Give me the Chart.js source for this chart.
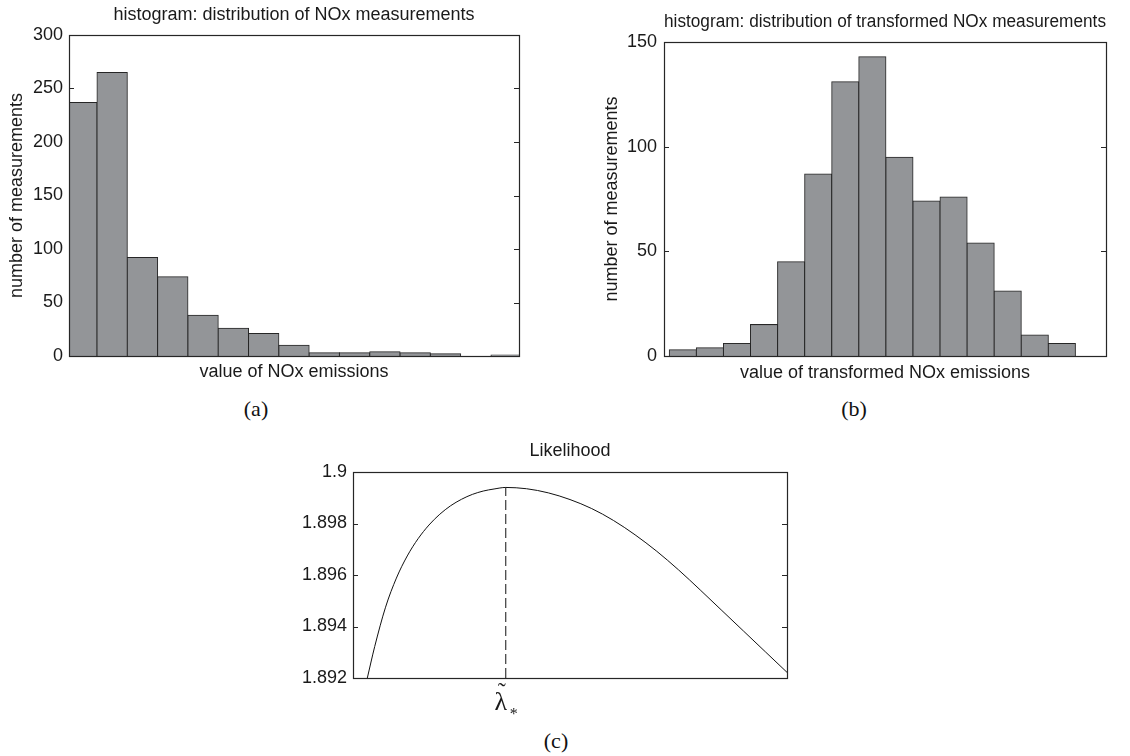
<!DOCTYPE html>
<html><head><meta charset="utf-8">
<script src="https://cdn.jsdelivr.net/npm/chart.js@4.4.1/dist/chart.umd.min.js"></script>
<style>
html,body{margin:0;padding:0;background:#fff;width:1130px;height:756px;overflow:hidden;}
.box{position:absolute;}
.cap{position:absolute;font-family:'Liberation Serif','Times New Roman',serif;font-size:22px;color:#111;transform:translate(-50%,-50%);white-space:nowrap;}
</style></head><body>
<div class="box" style="left:0;top:0;width:530px;height:390px"><canvas id="ca"></canvas></div>
<div class="box" style="left:590px;top:0;width:540px;height:390px"><canvas id="cb"></canvas></div>
<div class="box" style="left:280px;top:425px;width:540px;height:300px"><canvas id="cc"></canvas></div>
<div class="cap" style="left:256px;top:409px">(a)</div>
<div class="cap" style="left:854px;top:409px">(b)</div>
<div class="cap" style="left:556px;top:741px">(c)</div>
<script>
// ---------- data ----------
const binsA = [1,2,3,4,5,6,7,8,9,10,11,12,13,14,15];
const countsA = [237,265,92,74,38,26,21,10,3,3,4,3,2,0,1];
const yTicksA = [0,50,100,150,200,250,300];
const yTickLabelsA = ['0','50','100','150','200','250','300'];

const binsB = [1,2,3,4,5,6,7,8,9,10,11,12,13,14,15,16];
const countsB = [3,4,6,15,45,87,131,143,95,74,76,54,31,10,6,0];
const yTicksB = [0,50,100,150];
const yTickLabelsB = ['0','50','100','150'];

const lambdaVals = [0.033, 0.05, 0.075, 0.10, 0.125, 0.15, 0.175, 0.20, 0.225, 0.25, 0.275, 0.30, 0.325, 0.352,
                    0.40, 0.45, 0.50, 0.55, 0.60, 0.65, 0.70, 0.75, 0.80, 0.85, 0.90, 0.95, 1.00];
const likelihoodVals = [1.89200, 1.89322, 1.89475, 1.89588, 1.89674, 1.89741, 1.89794, 1.89836, 1.89869, 1.89894, 1.89913, 1.89926, 1.89934, 1.89940,
                        1.89935, 1.89919, 1.89893, 1.89858, 1.89812, 1.89756, 1.89692, 1.89620, 1.89542, 1.89462, 1.89382, 1.89302, 1.89222];
const lambdaStar = 0.352;
const likelihoodMax = 1.8994;
const yTicksC = [1.892,1.894,1.896,1.898,1.9];
const yTickLabelsC = ['1.892','1.894','1.896','1.898','1.9'];

const titleA = 'histogram: distribution of NOx measurements';
const xTitleA = 'value of NOx emissions';
const titleB = 'histogram: distribution of transformed NOx measurements';
const xTitleB = 'value of transformed NOx emissions';
const yTitleAB = 'number of measurements';
const titleC = 'Likelihood';
const lambdaLabel = 'λ';

// ---------- defaults ----------
Chart.defaults.font.family = "'Liberation Sans', Arial, Helvetica, sans-serif";
Chart.defaults.font.size = 18;
Chart.defaults.color = '#1a1a1a';
Chart.defaults.animation = false;
Chart.defaults.plugins.legend.display = false;
Chart.defaults.plugins.tooltip.enabled = false;

const INK = '#262626';
const fixedH = h => s => { s.height = h; };
const fixedW = w => s => { s.width = w; };
const setTicks = vals => s => { s.ticks = vals.map(v => ({value: v})); };

const framePlugin = {
  id: 'frame',
  beforeDatasetsDraw(chart) {
    const {ctx, chartArea: a} = chart;
    const ys = chart.scales.y;
    ctx.save();
    ctx.strokeStyle = INK; ctx.lineWidth = 1;
    ctx.beginPath();
    ys.ticks.forEach(t => {
      const y = Math.round(ys.getPixelForValue(t.value)) + 0.5;
      ctx.moveTo(a.left, y); ctx.lineTo(a.left + 5, y);
      ctx.moveTo(a.right - 5, y); ctx.lineTo(a.right, y);
    });
    ctx.stroke();
    ctx.restore();
  },
  afterDatasetsDraw(chart) {
    const {ctx, chartArea: a} = chart;
    ctx.save();
    ctx.strokeStyle = INK; ctx.lineWidth = 1.2;
    const l = Math.round(a.left) + 0.5, t = Math.round(a.top) + 0.5;
    ctx.strokeRect(l, t, Math.round(a.right) - Math.round(a.left), Math.round(a.bottom) - Math.round(a.top));
    ctx.restore();
  }
};

function hiddenTopAxis(text, h, pad) {
  return {
    type: 'linear', position: 'top', display: true, min: 0, max: 1,
    grid: {display: false, drawTicks: false}, border: {display: false},
    ticks: {display: false},
    title: {display: true, text: text, padding: {top: pad, bottom: 0}, font: {size: 18}},
    afterFit: fixedH(h)
  };
}

function makeHist(id, bins, counts, yTicks, yLabels, o) {
  return new Chart(document.getElementById(id), {
    type: 'bar',
    data: {
      datasets: [{
        data: bins.map((b, i) => ({x: b, y: counts[i]})),
        backgroundColor: '#939598',
        borderColor: INK,
        borderWidth: 1,
        borderSkipped: 'start',
        inflateAmount: 0.5,
        barPercentage: 1,
        categoryPercentage: 1,
        clip: 0
      }]
    },
    options: {
      responsive: true, maintainAspectRatio: false,
      layout: {padding: {left: 0, right: o.rightPad, top: 0, bottom: 0}},
      scales: {
        x: {
          type: 'linear', min: o.xMin, max: o.xMax, offset: false,
          grid: {display: false, drawTicks: false, offset: false}, border: {display: false},
          ticks: {display: false, stepSize: 1, includeBounds: false},
          title: {display: true, text: o.xTitle, padding: {top: 0, bottom: o.xTitlePad}, font: {size: 18}},
          afterFit: fixedH(o.botH)
        },
        top: hiddenTopAxis(o.title, o.topH, o.titlePad),
        y: {
          type: 'linear', min: yTicks[0], max: yTicks[yTicks.length - 1],
          grid: {display: false, drawTicks: false}, border: {display: false},
          afterBuildTicks: setTicks(yTicks),
          ticks: {padding: o.tickPad, font: {size: 18}, callback: (v, i) => yLabels[i]},
          title: {display: true, text: yTitleAB, padding: {top: o.yTitlePad, bottom: 0}, font: {size: 18}},
          afterFit: fixedW(o.yWidth)
        }
      }
    },
    plugins: [framePlugin]
  });
}

makeHist('ca', binsA, countsA, yTicksA, yTickLabelsA, {
  xMin: 0.576, xMax: 15.425, rightPad: 11, botH: 34, topH: 35, yWidth: 69,
  title: titleA, titlePad: 4.2, xTitle: xTitleA, xTitlePad: 7.2, yTitlePad: 6.2, tickPad: 6
});

makeHist('cb', binsB, countsB, yTicksB, yTickLabelsB, {
  xMin: 0.304, xMax: 16.63, rightPad: 24, botH: 34, topH: 42, yWidth: 74,
  title: titleB, titlePad: 11.2, xTitle: xTitleB, xTitlePad: 6.2, yTitlePad: 11.2, tickPad: 7
});

const lambdaPlugin = {
  id: 'lambdaLabel',
  afterDraw(chart) {
    const {ctx} = chart;
    const x = chart.scales.x.getPixelForValue(lambdaStar);
    const b = chart.chartArea.bottom;
    ctx.save();
    ctx.fillStyle = '#1a1a1a';
    ctx.textAlign = 'center';
    ctx.textBaseline = 'alphabetic';
    ctx.font = "26px 'Liberation Serif', 'Times New Roman', serif";
    ctx.fillText(lambdaLabel, x - 5, b + 32);
    ctx.font = "24px 'Liberation Serif', 'Times New Roman', serif";
    ctx.fillText('\u02DC', x - 4, b + 21);
    ctx.font = "16px 'Liberation Serif', 'Times New Roman', serif";
    ctx.fillText('*', x + 8, b + 41);
    ctx.restore();
  }
};

new Chart(document.getElementById('cc'), {
  type: 'line',
  data: {
    datasets: [{
      data: lambdaVals.map((l, i) => ({x: l, y: likelihoodVals[i]})),
      borderColor: '#111', borderWidth: 1, pointRadius: 0,
      cubicInterpolationMode: 'monotone', fill: false, clip: 0
    }, {
      data: [{x: lambdaStar, y: yTicksC[0]}, {x: lambdaStar, y: likelihoodMax}],
      borderColor: '#111', borderWidth: 1, pointRadius: 0, borderDash: [10, 4], fill: false, clip: 0
    }]
  },
  options: {
    responsive: true, maintainAspectRatio: false,
    layout: {padding: {left: 0, right: 33, top: 0, bottom: 0}},
    scales: {
      x: {
        type: 'linear', min: 0, max: 1,
        grid: {display: false, drawTicks: false}, border: {display: false},
        ticks: {display: false},
        afterFit: fixedH(47)
      },
      top: hiddenTopAxis(titleC, 47, 15.2),
      y: {
        type: 'linear', min: yTicksC[0], max: yTicksC[yTicksC.length - 1],
        grid: {display: false, drawTicks: false}, border: {display: false},
        afterBuildTicks: setTicks(yTicksC),
        ticks: {padding: 6, font: {size: 18}, callback: (v, i) => yTickLabelsC[i]},
        afterFit: fixedW(73)
      }
    }
  },
  plugins: [framePlugin, lambdaPlugin]
});
</script>
</body></html>
